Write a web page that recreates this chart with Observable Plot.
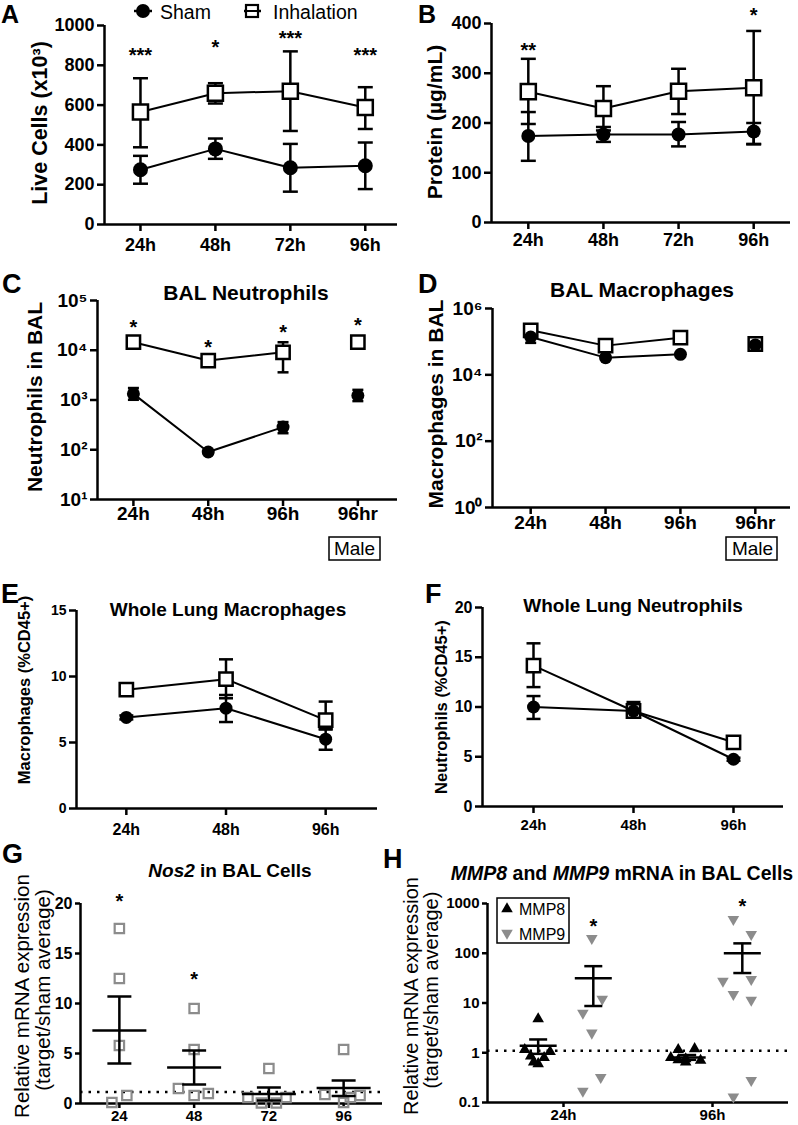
<!DOCTYPE html>
<html><head><meta charset="utf-8">
<script src="https://cdn.jsdelivr.net/npm/d3@7"></script>
<script src="https://cdn.jsdelivr.net/npm/@observablehq/plot@0.6"></script>
<style>
body{margin:0;background:#fff;}
#root{position:relative;width:798px;height:1125px;overflow:hidden;background:#fff;}
#root svg{position:absolute;}
</style></head><body><div id="root"></div>
<script>
// ---------------- DATA ----------------
// A: Live cells (x10^3)
const timesA = ["24h","48h","72h","96h"];
const shamA    = [275, 380, 285, 295];
const shamA_lo = [205, 330, 165, 178];
const shamA_hi = [345, 432, 405, 412];
const inhA     = [565, 660, 670, 588];
const inhA_lo  = [388, 608, 470, 480];
const inhA_hi  = [735, 710, 870, 690];
const starsA   = ["***","*","***","***"];
const starYA   = [875, 915, 960, 875];
const ticksA   = [0,200,400,600,800,1000];

// B: Protein (ug/mL)
const timesB = ["24h","48h","72h","96h"];
const shamB    = [174, 177, 177, 183];
const shamB_lo = [124, 162, 153, 157];
const shamB_hi = [222, 192, 202, 200];
const inhB     = [263, 229, 264, 271];
const inhB_lo  = [198, 185, 218, 158];
const inhB_hi  = [329, 274, 309, 385];
const starsB   = ["**","","","*"];
const starYB   = [356, null, null, 426];
const ticksB   = [0,100,200,300,400];

// C: BAL neutrophils (log)
const timesC = ["24h","48h","96h","96hr"];
const sexC   = ["F","F","F","Male"];
const shamC    = [1330, 90, 285, 1230];
const shamC_lo = [1010, 82, 215, 950];
const shamC_hi = [1740, 98, 360, 1600];
const inhC     = [14500, 6200, 9100, 14500];
const inhC_lo  = [13000, 5600, 3600, 12000];
const inhC_hi  = [16000, 6900, 14500, 16800];
const starsC   = ["*","*","*","*"];
const starYC   = [36000, 14400, 28700, 40000];
const ticksC   = [10,100,1000,1e4,1e5];

// D: BAL macrophages (log)
const timesD = ["24h","48h","96h","96hr"];
const sexD   = ["F","F","F","Male"];
const shamD    = [138000, 33000, 41500, 80000];
const shamD_lo = [92000, 30000, 38000, 70000];
const shamD_hi = [170000, 36000, 45000, 95000];
const inhD     = [220000, 76000, 132000, 85000];
const inhD_lo  = [190000, 66000, 115000, 72000];
const inhD_hi  = [255000, 88000, 150000, 100000];
const ticksD   = [1,100,1e4,1e6];

// E: Whole lung macrophages (%CD45+)
const timesE = ["24h","48h","96h"];
const shamE    = [6.9, 7.6, 5.25];
const shamE_lo = [6.75, 6.55, 4.45];
const shamE_hi = [7.05, 8.6, 6.0];
const inhE     = [9.0, 9.8, 6.7];
const inhE_lo  = [8.7, 8.35, 6.0];
const inhE_hi  = [9.3, 11.3, 8.1];
const ticksE   = [0,5,10,15];

// F: Whole lung neutrophils (%CD45+)
const timesF = ["24h","48h","96h"];
const shamF    = [10.0, 9.6, 4.75];
const shamF_lo = [8.8, 9.2, 4.6];
const shamF_hi = [11.1, 10.0, 4.9];
const inhF     = [14.15, 9.6, 6.45];
const inhF_lo  = [12.0, 9.0, 6.2];
const inhF_hi  = [16.4, 10.5, 6.7];
const ticksF   = [0,5,10,15,20];

// G: Nos2 relative expression
const timesG  = ["24","48","72","96"];
const nosVals = [[17.5,12.5,5.8,0.8,0.1],[9.5,5.4,1.5,0.8,1.0],[3.5,0.6,0.05,0.05,0.6],[5.4,0.9,0.1,0.8,0.6]];
const nosJit  = [[0,0,0,0.1,-0.1],[0,0,-0.21,0,0.19],[0,-0.28,-0.1,0.1,0.23],[0,-0.25,0,0.22,0.09]];
const nosMean = [7.3, 3.6, 0.95, 1.55];
const nosLo   = [4.0, 1.9, 0.3, 0.75];
const nosHi   = [10.7, 5.3, 1.6, 2.3];
const starsG  = ["*","*","",""];
const starYG  = [20.7, 12.9, null, null];
const shamLevelG = 1.15;
const ticksG  = [0,5,10,15,20];

// H: MMP8 / MMP9 relative expression (log)
const timesH  = ["24h","96h"];
const mmp8    = [[4.8,1.15,1.05,0.85,0.8,0.6,0.65],[1.15,1.2,0.8,0.75,0.7,0.65,0.72]];
const mmp8Jit = [[-0.17,-0.26,-0.09,-0.22,-0.13,-0.17,-0.2],[-0.23,-0.12,-0.28,-0.18,-0.08,-0.18,-0.23]];
const mmp9    = [[200,12,6.3,2.5,0.32,0.17],[480,240,27.5,30,15,11.5,0.28,0.13]];
const mmp9Jit = [[0.19,0.26,0.13,0.19,0.25,0.13],[0.14,0.26,0.07,0.26,0.14,0.26,0.26,0.14]];
const mmp8Mean = [1.38, 0.8],  mmp8Lo = [0.95, 0.72], mmp8Hi = [1.85, 0.9];
const mmp9Mean = [31.6, 100],  mmp9Lo = [8.7, 40],    mmp9Hi = [55, 158];
const barOffH  = {MMP8: -0.17, MMP9: 0.2};
const starsH   = ["*","*"];
const starYH   = [430, 1100];
const shamLevelH = 1.1;
const ticksH   = [0.1,1,10,100,1000];

// ---------------- HELPERS ----------------
const FONT = '"Liberation Sans", Arial, Helvetica, sans-serif';
const GRAY = "#8c8c8c";
const root = document.getElementById("root");
const SUP = {"0":"⁰","1":"¹","2":"²","3":"³","4":"⁴","5":"⁵","6":"⁶","7":"⁷","8":"⁸","9":"⁹"};
const pow10 = d => "10" + String(Math.round(Math.log10(d))).split("").map(c => SUP[c]).join("");
const plain = d => String(d);
const hbar = w => ({draw(ctx) { ctx.moveTo(-w, 0); ctx.lineTo(w, 0); }});
const rows = (v, lo, hi, extra) => v.map((d, i) => ({i, v: d, lo: lo[i], hi: hi[i], g: extra ? extra[i] : "F"}));

function panel(f, xdom, yScale, marks) {
  const mL = 90, mR = 20, mT = 50, mB = 50;
  const svg = Plot.plot({
    width: mL + (f.x1 - f.x0) + mR, height: mT + (f.y1 - f.y0) + mB,
    marginLeft: mL, marginRight: mR, marginTop: mT, marginBottom: mB,
    x: {type: "linear", domain: xdom},
    y: yScale,
    style: {fontFamily: FONT, background: "transparent", overflow: "visible", color: "black"},
    marks
  });
  svg.style.position = "absolute";
  svg.style.left = (f.x0 - mL) + "px";
  svg.style.top = (f.y0 - mT) + "px";
  root.append(svg);
}

function axes({labels, yticks, yfmt, xfs, yfs, xpad, ypad = 3, tick = 7, y0, x0}) {
  return [
    Plot.ruleY([y0], {stroke: "black", strokeWidth: 2.5}),
    Plot.ruleX([x0], {stroke: "black", strokeWidth: 2.5}),
    Plot.axisY({ticks: yticks, tickFormat: yfmt, tickSize: tick, tickPadding: ypad, fontSize: yfs, fontWeight: "bold", strokeWidth: 2.5, label: null}),
    Plot.axisX({ticks: d3.range(labels.length), tickFormat: i => labels[i], tickSize: tick, tickPadding: xpad, fontSize: xfs, fontWeight: "bold", strokeWidth: 2.5, label: null})
  ];
}

function series(sham, inh, {rc, rs, cap, lineOK = () => true}) {
  const bars = data => [
    Plot.ruleX(data, {x: "i", y1: "lo", y2: "hi", stroke: "black", strokeWidth: 2.5}),
    Plot.dot(data, {x: "i", y: "lo", symbol: hbar(cap), r: 3, fill: "none", stroke: "black", strokeWidth: 2.5}),
    Plot.dot(data, {x: "i", y: "hi", symbol: hbar(cap), r: 3, fill: "none", stroke: "black", strokeWidth: 2.5})
  ];
  return [
    Plot.line(inh, {x: "i", y: "v", filter: lineOK, stroke: "black", strokeWidth: 2}),
    Plot.line(sham, {x: "i", y: "v", filter: lineOK, stroke: "black", strokeWidth: 2}),
    ...bars(inh), ...bars(sham),
    Plot.dot(inh, {x: "i", y: "v", symbol: "square", r: rs, fill: "white", stroke: "black", strokeWidth: 2.5}),
    Plot.dot(sham, {x: "i", y: "v", symbol: "circle", r: rc, fill: "black", stroke: "none"})
  ];
}

function starMarks(xs, stars, ys, fs = 20) {
  const data = stars.map((s, k) => ({x: xs[k], s, y: ys[k]})).filter(d => d.s);
  return Plot.text(data, {x: "x", y: "y", text: "s", fontSize: fs, fontWeight: "bold", dy: 5, fill: "black"});
}

// ---------------- PANELS ----------------
// A
panel({x0: 104, x1: 397, y0: 25, y1: 224}, [-0.48, 3.43], {domain: [0, 1000]}, [
  ...axes({labels: timesA, yticks: ticksA, yfmt: plain, xfs: 18, yfs: 18, xpad: 7, y0: 0, x0: -0.48}),
  ...series(rows(shamA, shamA_lo, shamA_hi), rows(inhA, inhA_lo, inhA_hi), {rc: 7.5, rs: 8.5, cap: 7.5}),
  starMarks(d3.range(4), starsA, starYA)
]);

// B
panel({x0: 491, x1: 790, y0: 23, y1: 222}, [-0.49, 3.49], {domain: [0, 400]}, [
  ...axes({labels: timesB, yticks: ticksB, yfmt: plain, xfs: 18, yfs: 18, xpad: 4, y0: 0, x0: -0.49}),
  ...series(rows(shamB, shamB_lo, shamB_hi), rows(inhB, inhB_lo, inhB_hi), {rc: 7, rs: 8.5, cap: 7.5}),
  starMarks(d3.range(4), starsB, starYB)
]);

// C
panel({x0: 97, x1: 397, y0: 300, y1: 499}, [-0.48, 3.53], {type: "log", domain: [10, 1e5]}, [
  ...axes({labels: timesC, yticks: ticksC, yfmt: pow10, xfs: 19, yfs: 19, xpad: 0, y0: 10, x0: -0.48}),
  ...series(rows(shamC, shamC_lo, shamC_hi, sexC), rows(inhC, inhC_lo, inhC_hi, sexC), {rc: 6.5, rs: 7.5, cap: 5.5, lineOK: d => d.g !== "Male"}),
  starMarks(d3.range(4), starsC, starYC)
]);

// D
panel({x0: 492, x1: 790, y0: 308, y1: 507}, [-0.51, 3.47], {type: "log", domain: [1, 1e6]}, [
  ...axes({labels: timesD, yticks: ticksD, yfmt: pow10, xfs: 19, yfs: 19, xpad: 1, y0: 1, x0: -0.51}),
  ...series(rows(shamD, shamD_lo, shamD_hi, sexD), rows(inhD, inhD_lo, inhD_hi, sexD), {rc: 6.5, rs: 7.5, cap: 5.5, lineOK: d => d.g !== "Male"})
]);

// E
panel({x0: 76, x1: 377, y0: 610, y1: 808}, [-0.5, 2.52], {domain: [0, 15]}, [
  ...axes({labels: timesE, yticks: ticksE, yfmt: plain, xfs: 16, yfs: 14, xpad: 8, y0: 0, x0: -0.5}),
  ...series(rows(shamE, shamE_lo, shamE_hi), rows(inhE, inhE_lo, inhE_hi), {rc: 6.5, rs: 7.5, cap: 7})
]);

// F
panel({x0: 482, x1: 783, y0: 607, y1: 806}, [-0.51, 2.5], {domain: [0, 20]}, [
  ...axes({labels: timesF, yticks: ticksF, yfmt: plain, xfs: 15, yfs: 16, xpad: 6, y0: 0, x0: -0.51}),
  ...series(rows(shamF, shamF_lo, shamF_hi), rows(inhF, inhF_lo, inhF_hi), {rc: 6.5, rs: 7.5, cap: 7})
]);

// G
const nosPts = nosVals.flatMap((vals, i) => vals.map((v, j) => ({x: i + nosJit[i][j], v})));
const nosStats = nosMean.map((m, i) => ({x: i, m, lo: nosLo[i], hi: nosHi[i]}));
panel({x0: 80, x1: 382, y0: 903, y1: 1103}, [-0.52, 3.52], {domain: [0, 20]}, [
  ...axes({labels: timesG, yticks: ticksG, yfmt: plain, xfs: 15, yfs: 16, xpad: 2, tick: 5, y0: 0, x0: -0.52}),
  Plot.ruleY([shamLevelG], {stroke: "black", strokeWidth: 2.5, strokeDasharray: "2.5,6"}),
  Plot.dot(nosPts, {x: "x", y: "v", symbol: "square", r: 5.3, fill: "none", stroke: GRAY, strokeWidth: 2.2}),
  Plot.ruleX(nosStats, {x: "x", y1: "lo", y2: "hi", stroke: "black", strokeWidth: 2.5}),
  Plot.dot(nosStats, {x: "x", y: "m", symbol: hbar(27), r: 3, fill: "none", stroke: "black", strokeWidth: 2.5}),
  Plot.dot(nosStats, {x: "x", y: "lo", symbol: hbar(12), r: 3, fill: "none", stroke: "black", strokeWidth: 2.5}),
  Plot.dot(nosStats, {x: "x", y: "hi", symbol: hbar(12), r: 3, fill: "none", stroke: "black", strokeWidth: 2.5}),
  starMarks(d3.range(4), starsG, starYG)
]);

// H
const p8 = mmp8.flatMap((vals, i) => vals.map((v, j) => ({x: i + mmp8Jit[i][j], v})));
const p9 = mmp9.flatMap((vals, i) => vals.map((v, j) => ({x: i + mmp9Jit[i][j], v})));
const statsH = [
  ...mmp8Mean.map((m, i) => ({x: i + barOffH.MMP8, m, lo: mmp8Lo[i], hi: mmp8Hi[i]})),
  ...mmp9Mean.map((m, i) => ({x: i + barOffH.MMP9, m, lo: mmp9Lo[i], hi: mmp9Hi[i]}))
];
panel({x0: 487, x1: 788, y0: 903, y1: 1102}, [-0.51, 1.51], {type: "log", domain: [0.1, 1000]}, [
  ...axes({labels: timesH, yticks: ticksH, yfmt: d => (d < 1 ? "0.1" : String(d)), xfs: 15, yfs: 15, xpad: 2, tick: 5, y0: 0.1, x0: -0.51}),
  Plot.ruleY([shamLevelH], {stroke: "black", strokeWidth: 2.5, strokeDasharray: "2.5,6"}),
  Plot.dot(p9, {x: "x", y: "v", symbol: "triangle", rotate: 180, r: 4.3, fill: GRAY, stroke: "none"}),
  Plot.dot(p8, {x: "x", y: "v", symbol: "triangle", r: 4.3, fill: "black", stroke: "none"}),
  Plot.ruleX(statsH, {x: "x", y1: "lo", y2: "hi", stroke: "black", strokeWidth: 2.5}),
  Plot.dot(statsH, {x: "x", y: "m", symbol: hbar(18.5), r: 3, fill: "none", stroke: "black", strokeWidth: 2.5}),
  Plot.dot(statsH, {x: "x", y: "lo", symbol: hbar(9), r: 3, fill: "none", stroke: "black", strokeWidth: 2.5}),
  Plot.dot(statsH, {x: "x", y: "hi", symbol: hbar(9), r: 3, fill: "none", stroke: "black", strokeWidth: 2.5}),
  starMarks(d3.range(2).map(i => i + barOffH.MMP9), starsH, starYH)
]);

// ---------------- OVERLAY TEXT ----------------
const ov = d3.create("svg").attr("width", 798).attr("height", 1125)
  .style("position", "absolute").style("left", "0px").style("top", "0px")
  .style("font-family", FONT).style("white-space", "pre");
function txt(x, y, s, o = {}) {
  const t = ov.append("text").attr("x", x).attr("y", y)
    .attr("font-size", o.size || 18).attr("font-weight", o.weight || "bold")
    .attr("text-anchor", o.anchor || "start").attr("fill", o.fill || "black");
  if (o.rot) t.attr("transform", `rotate(-90 ${x} ${y})`);
  if (o.len) t.attr("textLength", o.len).attr("lengthAdjust", "spacingAndGlyphs");
  if (Array.isArray(s)) s.forEach(([str, it]) => t.append("tspan").attr("font-style", it ? "italic" : "normal").text(str));
  else t.text(s);
  return t;
}
// panel letters
[["A", 1, 23, 25], ["B", 418, 23, 25], ["C", 2, 293, 27], ["D", 418, 293, 27], ["E", 1, 603, 27], ["F", 425, 603, 27], ["G", 2, 863, 27], ["H", 383, 868, 27]]
  .forEach(([l, x, y, s]) => txt(x, y, l, {size: s}));
// y labels
txt(47, 123, "Live Cells (x10³)", {size: 21.5, rot: true, anchor: "middle"});
txt(442, 122, "Protein (µg/mL)", {size: 21, rot: true, anchor: "middle"});
txt(42, 397, "Neutrophils in  BAL", {size: 21, rot: true, anchor: "middle"});
txt(443, 404, "Macrophages in BAL", {size: 21, rot: true, anchor: "middle"});
txt(30, 690, "Macrophages  (%CD45+)", {size: 16.5, rot: true, anchor: "middle"});
txt(447, 707, "Neutrophils (%CD45+)", {size: 16.5, rot: true, anchor: "middle"});
txt(29, 996, "Relative mRNA expression", {size: 20.5, weight: "normal", rot: true, anchor: "middle"});
txt(50, 990, "(target/sham average)", {size: 20.5, weight: "normal", rot: true, anchor: "middle"});
txt(418, 996, "Relative mRNA expression", {size: 20, weight: "normal", rot: true, anchor: "middle"});
txt(438, 990, "(target/sham average)", {size: 20, weight: "normal", rot: true, anchor: "middle"});
// titles
txt(246, 300, "BAL  Neutrophils", {size: 21, anchor: "middle"});
txt(642, 297, "BAL Macrophages", {size: 21, anchor: "middle"});
txt(228, 616, "Whole Lung Macrophages", {size: 19, anchor: "middle"});
txt(633, 612, "Whole Lung Neutrophils", {size: 19, anchor: "middle"});
txt(230, 877, [["Nos2", true], [" in BAL Cells", false]], {size: 19, anchor: "middle"});
txt(622, 880, [["MMP8", true], [" and ", false], ["MMP9", true], [" mRNA in BAL Cells", false]], {size: 19.5, anchor: "middle"});
// legend A
ov.append("line").attr("x1", 134).attr("x2", 152).attr("y1", 11).attr("y2", 11).attr("stroke", "black").attr("stroke-width", 2.5);
ov.append("circle").attr("cx", 143).attr("cy", 11).attr("r", 7).attr("fill", "black");
txt(160, 19, "Sham", {size: 19.5, weight: "normal"});
ov.append("line").attr("x1", 244).attr("x2", 261).attr("y1", 11).attr("y2", 11).attr("stroke", "black").attr("stroke-width", 2.5);
ov.append("rect").attr("x", 246).attr("y", 5).attr("width", 12).attr("height", 12).attr("fill", "white").attr("stroke", "black").attr("stroke-width", 2.2);
ov.append("line").attr("x1", 246).attr("x2", 258).attr("y1", 11).attr("y2", 11).attr("stroke", "black").attr("stroke-width", 2);
txt(273, 19, "Inhalation", {size: 19.5, weight: "normal"});
// Male boxes
[[329, 354], [726, 752]].forEach(([x, cx]) => {
  ov.append("rect").attr("x", x).attr("y", 537).attr("width", 51).attr("height", 23).attr("fill", "none").attr("stroke", "black").attr("stroke-width", 1.5);
  txt(cx + 0.5, 555, "Male", {size: 19, weight: "normal", anchor: "middle"});
});
// legend H
ov.append("rect").attr("x", 497).attr("y", 898).attr("width", 72).attr("height", 45).attr("fill", "white").attr("stroke", "black").attr("stroke-width", 1.5);
const tri = d3.symbol(d3.symbolTriangle, Math.PI * 4.3 * 4.3)();
ov.append("path").attr("d", tri).attr("transform", "translate(507,909)").attr("fill", "black");
ov.append("path").attr("d", tri).attr("transform", "translate(507,933) rotate(180)").attr("fill", GRAY);
txt(519, 915, "MMP8", {size: 16, weight: "normal"});
txt(519, 940, "MMP9", {size: 16, weight: "normal"});
root.append(ov.node());
</script></body></html>
